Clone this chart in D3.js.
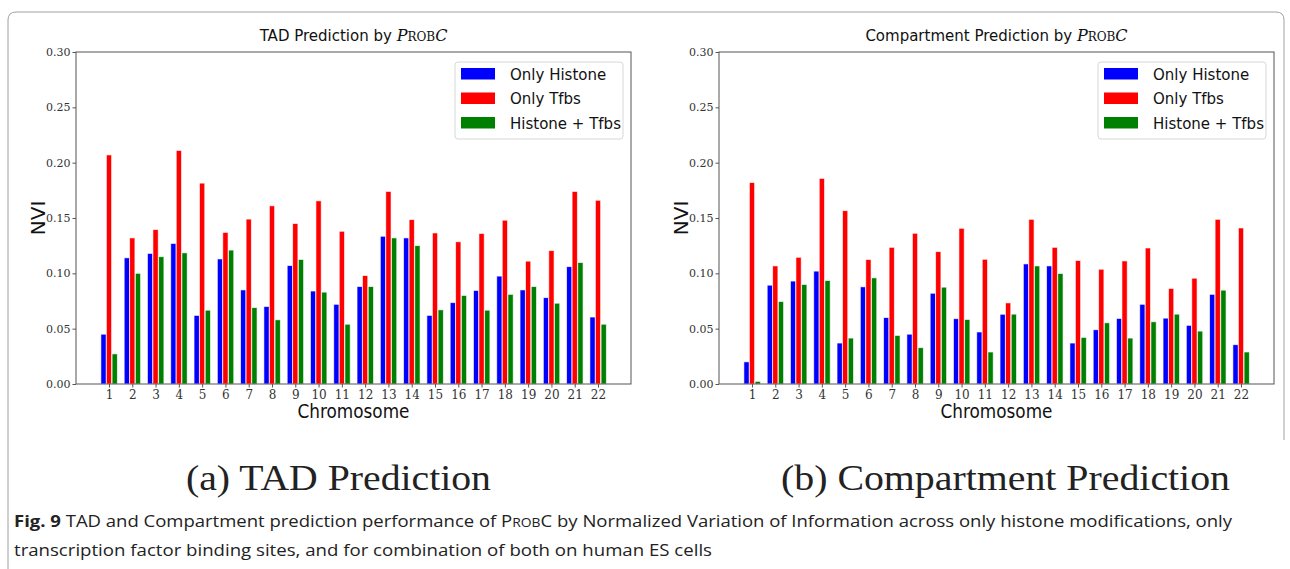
<!DOCTYPE html>
<html>
<head>
<meta charset="utf-8">
<script src="https://cdn.jsdelivr.net/npm/d3@7"></script>
<style>
  html, body { margin: 0; padding: 0; background: #fff; }
  svg { display: block; }
</style>
</head>
<body>
<svg id="fig" width="1290" height="569"></svg>
<script>
// Chromosomes on the x axis
const chromosomes = ["1","2","3","4","5","6","7","8","9","10","11","12","13","14","15","16","17","18","19","20","21","22"];
const seriesNames = ["Only Histone", "Only Tfbs", "Histone + Tfbs"];
const seriesColors = ["#0000ff", "#ff0000", "#008000"];
const yTicks = [0.00, 0.05, 0.10, 0.15, 0.20, 0.25, 0.30];

// NVI for TAD prediction
const tadHistone = [0.045,0.114,0.118,0.127,0.062,0.113,0.085,0.070,0.107,0.084,0.072,0.088,0.1335,0.132,0.062,0.0735,0.0845,0.0975,0.085,0.078,0.106,0.0605];
const tadTfbs    = [0.207,0.132,0.1395,0.211,0.1815,0.137,0.149,0.161,0.145,0.1655,0.138,0.098,0.174,0.1485,0.1365,0.1285,0.136,0.148,0.111,0.1205,0.174,0.166];
const tadBoth    = [0.0272,0.100,0.115,0.1185,0.0667,0.121,0.069,0.058,0.1125,0.083,0.054,0.088,0.132,0.125,0.067,0.080,0.0667,0.081,0.088,0.073,0.1097,0.054];

// NVI for compartment prediction
const compHistone = [0.020,0.0893,0.093,0.102,0.037,0.0878,0.060,0.045,0.082,0.059,0.047,0.063,0.1085,0.1067,0.037,0.049,0.0592,0.072,0.0595,0.053,0.081,0.0355];
const compTfbs    = [0.182,0.1067,0.1145,0.1858,0.1566,0.1124,0.1235,0.1362,0.1196,0.1407,0.1127,0.0733,0.1488,0.1235,0.1115,0.1037,0.1112,0.1229,0.0863,0.0956,0.1488,0.141];
const compBoth    = [0.0024,0.0745,0.0899,0.0935,0.0415,0.0959,0.0439,0.0328,0.0875,0.0583,0.0289,0.0631,0.1067,0.0998,0.0421,0.0553,0.0415,0.0562,0.0631,0.0478,0.0848,0.0289];

const svg = d3.select("#fig");
const serif = "'DejaVu Serif', 'Liberation Serif', serif";
const sans = "'DejaVu Sans', 'Open Sans', sans-serif";

// Outer figure frame
svg.append("path")
  .attr("d", "M8,569 V20 Q8,12 16,12 H1276 Q1284,12 1284,20 V440")
  .attr("fill", "none").attr("stroke", "#a0a0a0").attr("stroke-width", 1);

function drawPanel(left, titleMain, series) {
  const top = 52, bottom = 384, width = 555, right = left + width;
  const g = svg.append("g");

  const x = d3.scaleLinear().domain([-0.417, 23.417]).range([left, right]);
  const y = d3.scaleLinear().domain([0, 0.30]).range([bottom, top]);

  const offsets = [-0.235, 0, 0.245];
  const barW = 0.225;

  series.forEach((vals, si) => {
    g.append("g").selectAll("rect")
      .data(vals)
      .join("rect")
      .attr("x", (d, i) => x(i + 1 + offsets[si] - barW / 2))
      .attr("width", x(barW) - x(0))
      .attr("y", d => y(d))
      .attr("height", d => y(0) - y(d))
      .attr("fill", seriesColors[si])
      .attr("stroke", "#ffffff")
      .attr("stroke-opacity", 0.75)
      .attr("stroke-width", 0.8);
  });

  // Axes
  const yAxis = d3.axisLeft(y).tickValues(yTicks).tickFormat(d3.format(".2f")).tickSizeOuter(0).tickSize(3.5).tickPadding(2);
  const ya = g.append("g").attr("transform", `translate(${left},0)`).call(yAxis);
  ya.select(".domain").remove();
  ya.selectAll("text").attr("font-family", serif).attr("font-size", 11).attr("fill", "#333");
  ya.selectAll("line").attr("stroke", "#555");

  const xAxis = d3.axisBottom(x).tickValues(d3.range(1, 23)).tickFormat((d, i) => chromosomes[i]).tickSizeOuter(0).tickSize(3.5).tickPadding(3);
  const xa = g.append("g").attr("transform", `translate(0,${bottom})`).call(xAxis);
  xa.select(".domain").remove();
  xa.selectAll("text").attr("font-family", serif).attr("font-size", 12).attr("fill", "#333");
  xa.selectAll("line").attr("stroke", "#555");

  // Plot frame
  g.append("rect").attr("x", left).attr("y", top).attr("width", width).attr("height", bottom - top)
    .attr("fill", "none").attr("stroke", "#555").attr("stroke-width", 1);

  // Title
  const t = g.append("text").attr("x", (left + right) / 2).attr("y", 41)
    .attr("text-anchor", "middle").attr("font-size", 15).attr("fill", "#111").attr("font-family", sans);
  t.append("tspan").text(titleMain + " by ");
  t.append("tspan").attr("font-family", serif).attr("font-style", "italic").attr("font-size", 16).text("P");
  t.append("tspan").attr("font-family", serif).attr("font-size", 12).text("ROB");
  t.append("tspan").attr("font-family", serif).attr("font-style", "italic").attr("font-size", 16).text("C");

  // Axis titles
  g.append("text").attr("x", (left + right) / 2).attr("y", 418).attr("text-anchor", "middle")
    .attr("font-family", sans).attr("font-size", 19).attr("fill", "#111")
    .attr("textLength", 112).attr("lengthAdjust", "spacingAndGlyphs").text("Chromosome");
  g.append("text").attr("transform", `translate(${left - 31},${(top + bottom) / 2}) rotate(-90)`)
    .attr("text-anchor", "middle").attr("font-family", sans).attr("font-size", 20).attr("fill", "#111").text("NVI");

  // Legend
  const lx = right - 176, ly = 62;
  g.append("rect").attr("x", lx).attr("y", ly).attr("width", 168).attr("height", 77).attr("rx", 3)
    .attr("fill", "#fff").attr("stroke", "#d8d8d8").attr("stroke-width", 1);
  seriesNames.forEach((name, i) => {
    g.append("rect").attr("x", lx + 6).attr("y", ly + 6 + i * 24.5).attr("width", 34).attr("height", 11.5)
      .attr("fill", seriesColors[i]);
    g.append("text").attr("x", lx + 55).attr("y", ly + 17.5 + i * 24.5)
      .attr("font-family", sans).attr("font-size", 15).attr("fill", "#111").text(name);
  });
}

drawPanel(76, "TAD Prediction", [tadHistone, tadTfbs, tadBoth]);
drawPanel(719, "Compartment Prediction", [compHistone, compTfbs, compBoth]);

// Sub-figure captions
svg.append("text").attr("x", 186).attr("y", 490)
  .attr("font-family", "'Liberation Serif', serif").attr("font-size", 35).attr("fill", "#222")
  .attr("textLength", 305).attr("lengthAdjust", "spacingAndGlyphs").text("(a) TAD Prediction");
svg.append("text").attr("x", 781).attr("y", 490)
  .attr("font-family", "'Liberation Serif', serif").attr("font-size", 35).attr("fill", "#222")
  .attr("textLength", 449).attr("lengthAdjust", "spacingAndGlyphs").text("(b) Compartment Prediction");

// Figure caption
const cap1 = svg.append("text").attr("x", 14).attr("y", 527)
  .attr("font-family", "'Open Sans', sans-serif").attr("font-size", 16).attr("fill", "#222")
  .attr("textLength", 1218).attr("lengthAdjust", "spacingAndGlyphs");
cap1.append("tspan").attr("font-weight", "bold").text("Fig. 9");
cap1.append("tspan").text(" TAD and Compartment prediction performance of P");
cap1.append("tspan").attr("font-size", 12).text("ROB");
cap1.append("tspan").text("C by Normalized Variation of Information across only histone modifications, only");
svg.append("text").attr("x", 14).attr("y", 556)
  .attr("font-family", "'Open Sans', sans-serif").attr("font-size", 16).attr("fill", "#222")
  .attr("textLength", 698).attr("lengthAdjust", "spacingAndGlyphs")
  .text("transcription factor binding sites, and for combination of both on human ES cells");
</script>
</body>
</html>
